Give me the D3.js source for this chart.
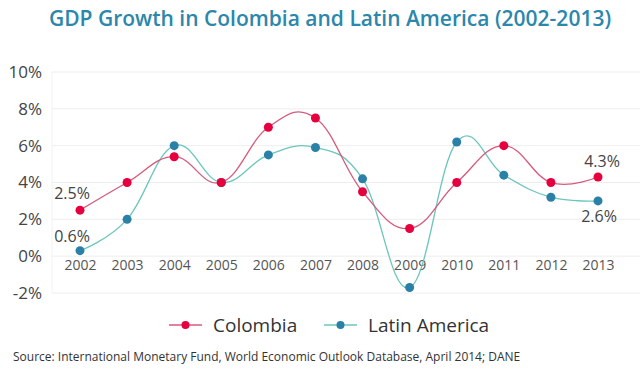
<!DOCTYPE html>
<html>
<head>
<meta charset="utf-8">
<script src="https://cdn.jsdelivr.net/npm/d3@7"></script>
<style>
  body { margin: 0; background: #fff; }
  text { font-family: "Open Sans", "Noto Sans", sans-serif; }
</style>
</head>
<body>
<script>
// data
var years = ["2002","2003","2004","2005","2006","2007","2008","2009","2010","2011","2012","2013"];
var colombia = [2.5, 4.0, 5.4, 4.0, 7.0, 7.5, 3.5, 1.5, 4.0, 6.0, 4.0, 4.3];
var latinAmerica = [0.3, 2.0, 6.0, 4.0, 5.5, 5.9, 4.2, -1.7, 6.2, 4.4, 3.2, 3.0];
var yTicks = [-2, 0, 2, 4, 6, 8, 10];
var seriesNames = ["Colombia", "Latin America"];
// end labels as printed on the chart
var colombiaLabels = ["2.5%", "4.3%"];
var latinLabels = ["0.6%", "2.6%"];

var W = 640, H = 373;
var plot = {left: 52, right: 640, top: 72, bottom: 293};

var svg = d3.select("body").append("svg")
    .attr("width", W)
    .attr("height", H);

var x = d3.scalePoint().domain(years).range([80, 598]);
var y = d3.scaleLinear().domain([-2, 10]).range([plot.bottom, plot.top]);

// title
svg.append("text")
    .attr("x", 330)
    .attr("y", 26)
    .attr("text-anchor", "middle")
    .style("font-size", "21px")
    .style("font-weight", 600)
    .style("fill", "#2b87ab")
    .text("GDP Growth in Colombia and Latin America (2002-2013)");

// grid
svg.append("g").selectAll("line")
    .data(yTicks)
  .enter().append("line")
    .attr("x1", plot.left)
    .attr("x2", plot.right)
    .attr("y1", function(d) { return y(d); })
    .attr("y2", function(d) { return y(d); })
    .style("stroke", "#eeeeee")
    .style("stroke-width", 1);

svg.append("line")
    .attr("x1", plot.left).attr("x2", plot.left)
    .attr("y1", plot.top).attr("y2", plot.bottom)
    .style("stroke", "#f2f2f2");

// y axis labels
var yAxis = svg.append("g")
    .attr("transform", "translate(42,0)")
    .call(d3.axisLeft(y).tickValues(yTicks).tickSize(0).tickPadding(0)
        .tickFormat(function(d) { return d + "%"; }));
yAxis.select(".domain").remove();
yAxis.selectAll("text")
    .style("font-family", "'Open Sans', sans-serif")
    .style("font-size", "17px")
    .style("fill", "#444");

// x axis labels (sit on the 0% line)
var xAxis = svg.append("g")
    .attr("transform", "translate(0," + y(0) + ")")
    .call(d3.axisBottom(x).tickSize(0).tickPadding(4));
xAxis.select(".domain").remove();
xAxis.selectAll("text")
    .style("font-family", "'Open Sans', sans-serif")
    .style("font-size", "14px")
    .style("fill", "#555");

// spline a bit looser than catmull-rom
var line = d3.line()
    .x(function(d, i) { return x(years[i]); })
    .y(function(d) { return y(d); })
    .curve(d3.curveCardinal.tension(-0.2));

function drawSeries(values, lineColor, dotColor) {
  svg.append("path")
      .datum(values)
      .attr("d", line)
      .style("fill", "none")
      .style("stroke", lineColor)
      .style("stroke-width", 1.3);
  svg.append("g").selectAll("circle")
      .data(values)
    .enter().append("circle")
      .attr("cx", function(d, i) { return x(years[i]); })
      .attr("cy", function(d) { return y(d); })
      .attr("r", 4.5)
      .style("fill", dotColor);
}

drawSeries(latinAmerica, "#6cc6bd", "#2b80a8");
drawSeries(colombia, "#d65a7c", "#e6003e");

// value labels at both ends
function endLabel(txt, xv, yv, dx, dy, anchor) {
  svg.append("text")
      .attr("x", x(xv) + dx)
      .attr("y", y(yv) + dy)
      .attr("text-anchor", anchor)
      .style("font-size", "16px")
      .style("fill", "#444")
      .text(txt);
}
endLabel(colombiaLabels[0], "2002", colombia[0], -8, -11, "middle");
endLabel(latinLabels[0], "2002", latinAmerica[0], -8, -9, "middle");
endLabel(colombiaLabels[1], "2013", colombia[11], 4, -10, "middle");
endLabel(latinLabels[1], "2013", latinAmerica[11], 1, 21, "middle");

// legend
var legendColors = [["#d65a7c", "#e6003e"], ["#6cc6bd", "#2b80a8"]];
var legendX = [169, 324];
var legend = svg.append("g").selectAll("g")
    .data(seriesNames)
  .enter().append("g")
    .attr("transform", function(d, i) { return "translate(" + legendX[i] + ",325)"; });
legend.append("line")
    .attr("x1", 0).attr("x2", 33)
    .style("stroke", function(d, i) { return legendColors[i][0]; })
    .style("stroke-width", 1.5);
legend.append("circle")
    .attr("cx", 16.5)
    .attr("r", 4)
    .style("fill", function(d, i) { return legendColors[i][1]; });
legend.append("text")
    .attr("x", 44)
    .attr("dy", "0.35em")
    .style("font-size", "19px")
    .style("fill", "#333")
    .text(function(d) { return d; });

// source
svg.append("text")
    .attr("x", 13)
    .attr("y", 361)
    .style("font-size", "12px")
    .style("fill", "#333")
    .text("Source: International Monetary Fund, World Economic Outlook Database, April 2014; DANE");
</script>
</body>
</html>
